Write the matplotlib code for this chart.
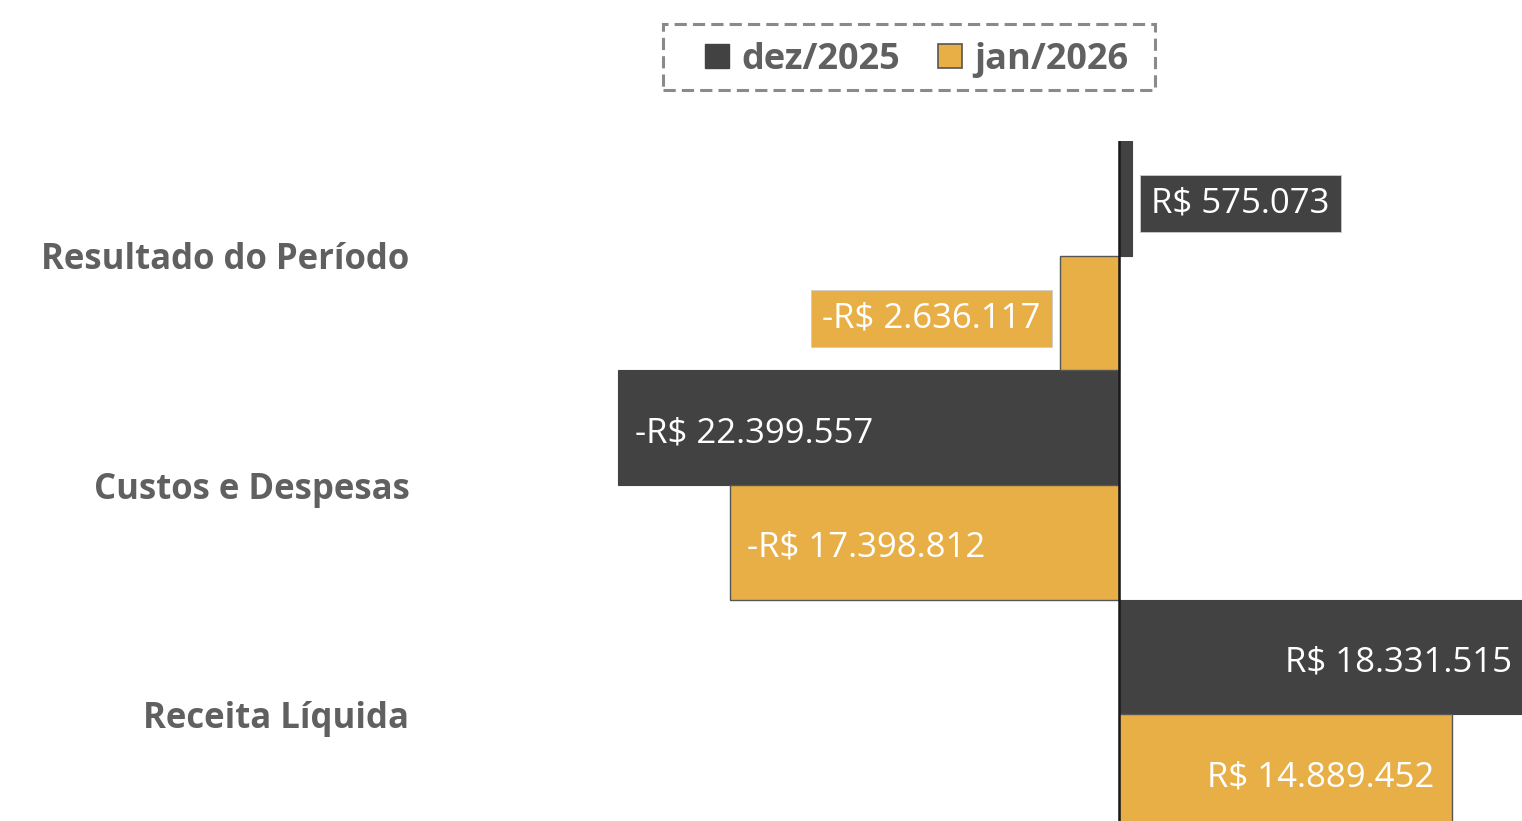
import matplotlib.pyplot as plt
from matplotlib.patches import Patch, Rectangle

# categories bottom -> top
categories = ["Receita Líquida", "Custos e Despesas", "Resultado do Período"]
dez_2025 = [18331515, -22399557, 575073]
jan_2026 = [14889452, -17398812, -2636117]
series_names = ["dez/2025", "jan/2026"]

DARK = "#424242"
YELLOW = "#E9AF47"
TXT = "#606060"
FONT = "Open Sans"
W, H = 1522, 821


def brl(v):
    s = "{:,.0f}".format(abs(v)).replace(",", ".")
    return ("-" if v < 0 else "") + "R$ " + s


fig = plt.figure(figsize=(W / 100, H / 100), dpi=100)
# axes spans from x=415px to right edge, top at 141px, runs slightly past bottom
ax = fig.add_axes([415 / W, -8 / H, 1 - 415 / W, 688 / H])

ypos = list(range(len(categories)))
h = 0.5
ax.barh([y + h / 2 for y in ypos], dez_2025, height=h, color=DARK, edgecolor=DARK, linewidth=0.8)
ax.barh([y - h / 2 for y in ypos], jan_2026, height=h, color=YELLOW, edgecolor="#555555", linewidth=1.0)

ppm = 22.37  # pixels per million
ax.set_xlim((415 - 1119) / ppm * 1e6, (W - 1119) / ppm * 1e6)
ax.set_ylim(-0.5, 2.5)
ax.axvline(0, color="#1a1a1a", lw=1.8, zorder=5)

fs = 25
for vals, off, col in [(dez_2025, h / 2, DARK), (jan_2026, -h / 2, YELLOW)]:
    for y, v in zip(ypos, vals):
        lab = brl(v)
        if abs(v) > 5e6:
            dx = -12.5 if v > 0 else 12.5
            ax.annotate(lab, (v, y + off), xytext=(dx, -1), textcoords="offset points",
                        ha="right" if v > 0 else "left", va="center_baseline",
                        color="white", fontsize=fs, family=FONT, annotation_clip=False)
        else:
            dx = 14 if v > 0 else -14
            ax.annotate(lab, (v, y + off), xytext=(dx, -1), textcoords="offset points",
                        ha="left" if v > 0 else "right", va="center_baseline",
                        color="white", fontsize=fs, family=FONT, annotation_clip=False,
                        bbox=dict(boxstyle="square,pad=0.33", fc=col, ec="#cccccc", lw=0.6))

ax.set_yticks(ypos)
ax.set_yticklabels(categories, fontsize=25, fontweight="bold", color=TXT, family=FONT)
ax.tick_params(axis="y", length=0, pad=4)
ax.set_xticks([])
for s in ax.spines.values():
    s.set_visible(False)

handles = [Patch(facecolor=DARK, edgecolor=DARK), Patch(facecolor=YELLOW, edgecolor="#555555", lw=1.2)]
leg = fig.legend(handles, series_names, loc="center", bbox_to_anchor=(917 / W, 1 - 60 / H),
                 ncol=2, frameon=False, handlelength=0.65, handleheight=0.65,
                 handletextpad=0.35, columnspacing=1.05, borderpad=0.4, borderaxespad=0,
                 prop=dict(family=FONT, weight="bold", size=26))
for t in leg.get_texts():
    t.set_color(TXT)

# dashed legend frame
fig.patches.append(Rectangle((663 / W, 1 - 90 / H), 492 / W, 66 / H, transform=fig.transFigure,
                             fill=False, ec="#8a8a8a", lw=2.2, ls=(0, (4, 2))))

fig.savefig("out.png", dpi=100)
